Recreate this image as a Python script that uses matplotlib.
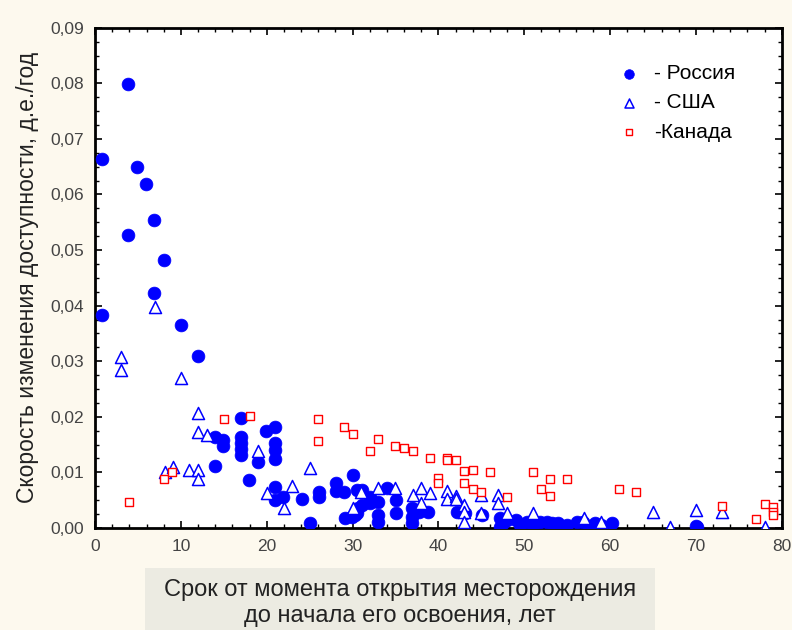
import numpy as np
import matplotlib
matplotlib.use('Agg')
import matplotlib.pyplot as plt
from matplotlib.ticker import MultipleLocator, FuncFormatter
from matplotlib.patches import Rectangle

plt.rcParams['font.family'] = ['Liberation Sans', 'DejaVu Sans']

# Россия (сплошные круги)
rus_x = [3.8, 0.8, 4.9, 5.9, 6.9, 3.8, 8.0, 6.9, 0.8, 10.0, 12.0,
         17.0, 14.0, 14.9, 14.9, 17.0, 17.0, 17.0, 17.0, 19.9, 21.0, 21.0, 21.0, 21.0,
         14.0, 19.0, 17.9, 21.0, 21.0, 21.9, 24.1, 25.0, 26.1, 26.1, 28.1, 28.1, 29.0,
         30.0, 30.5, 29.1, 29.9, 30.6, 30.5, 31.1, 31.1, 32.0, 32.0, 33.0, 34.0, 33.0,
         33.0, 30.3, 35.1, 35.1, 36.9, 36.9, 36.9, 37.8, 38.8, 37.5, 42.2, 43.1, 45.1,
         47.2, 47.2, 48.0, 49.1, 50.3, 51.8, 52.6, 53.2, 53.9, 56.1, 56.8, 58.2, 60.2,
         70.1, 47.5, 49.5, 51.0, 55.0, 57.5, 59.0, 70.0]
rus_y = [0.0799, 0.0664, 0.0650, 0.0619, 0.0554, 0.0527, 0.0482, 0.0423, 0.0383, 0.0365, 0.0310,
         0.0198, 0.0164, 0.0158, 0.0148, 0.0164, 0.0153, 0.0142, 0.0131, 0.0175, 0.0182, 0.0153, 0.0140, 0.0124,
         0.0112, 0.0119, 0.0086, 0.0074, 0.0050, 0.0056, 0.0052, 0.0009, 0.0065, 0.0056, 0.0081, 0.0067, 0.0065,
         0.0095, 0.0068, 0.0018, 0.0020, 0.0036, 0.0027, 0.0068, 0.0041, 0.0056, 0.0045, 0.0047, 0.0072, 0.0023,
         0.0011, 0.0023, 0.0050, 0.0027, 0.0036, 0.0020, 0.0009, 0.0029, 0.0029, 0.0033, 0.0029, 0.0027, 0.0023,
         0.0018, 0.0002, 0.0014, 0.0014, 0.0011, 0.0011, 0.0011, 0.0009, 0.0009, 0.0011, 0.0011, 0.0009, 0.0009,
         0.0002, 0.0008, 0.0005, 0.0006, 0.0005, 0.0004, 0.0006, 0.0004]

# США (треугольники)
usa_x = [7.0, 3.0, 3.0, 10.0, 12.0, 12.0, 13.0, 19.0, 8.2, 9.1, 11.0, 12.0, 12.0,
         20.0, 23.0, 22.0, 25.0, 30.0, 31.0, 33.0, 35.0, 37.0, 38.0, 39.0, 38.0,
         41.0, 41.0, 42.0, 42.0, 43.0, 43.0, 43.0, 45.0, 45.0, 47.0, 47.0, 48.0,
         51.0, 57.0, 59.0, 65.0, 67.0, 70.0, 73.0, 78.0]
usa_y = [0.0398, 0.0308, 0.0284, 0.0270, 0.0207, 0.0173, 0.0167, 0.0139, 0.0100, 0.0110, 0.0104, 0.0104, 0.0088,
         0.0063, 0.0076, 0.0036, 0.0108, 0.0036, 0.0065, 0.0072, 0.0072, 0.0060, 0.0072, 0.0063, 0.0045,
         0.0067, 0.0052, 0.0058, 0.0052, 0.0041, 0.0029, 0.0010, 0.0060, 0.0027, 0.0060, 0.0045, 0.0027,
         0.0027, 0.0018, 0.0010, 0.0029, 0.0002, 0.0032, 0.0029, 0.0002]

# Канада (квадраты)
can_x = [4.0, 8.0, 9.0, 15.0, 18.0, 26.0, 26.0, 29.0, 30.0, 32.0, 33.0, 35.0, 36.0, 37.0,
         39.0, 41.0, 41.0, 42.0, 40.0, 40.0, 43.0, 44.0, 43.0, 44.0, 45.0, 46.0, 48.0,
         51.0, 52.0, 53.0, 53.0, 55.0, 61.0, 63.0, 73.0, 77.0, 78.0, 79.0, 79.0, 79.0]
can_y = [0.0047, 0.0088, 0.0101, 0.0196, 0.0202, 0.0196, 0.0157, 0.0182, 0.0169, 0.0139, 0.0160, 0.0148, 0.0144, 0.0139,
         0.0126, 0.0126, 0.0122, 0.0122, 0.0090, 0.0081, 0.0103, 0.0104, 0.0081, 0.0070, 0.0065, 0.0101, 0.0056,
         0.0101, 0.0070, 0.0088, 0.0058, 0.0088, 0.0070, 0.0065, 0.0040, 0.0016, 0.0043, 0.0038, 0.0029, 0.0023]

bg = '#fdf9ee'
fig = plt.figure(figsize=(7.92, 6.3), dpi=100, facecolor=bg)
ax = fig.add_axes([0.12, 0.162, 0.867, 0.794])
ax.set_facecolor('white')

ax.scatter(rus_x, rus_y, s=85, marker='o', color='#0000ff', edgecolors='#0000ff',
           linewidths=0.5, label='- Россия', zorder=3)
ax.scatter(usa_x, usa_y, s=75, marker='^', facecolors='white', edgecolors='#0000ff',
           linewidths=1.1, label='- США', zorder=4)
ax.scatter(can_x, can_y, s=30, marker='s', facecolors='white', edgecolors='#ff0000',
           linewidths=1.0, label='-Канада', zorder=5)

ax.set_xlim(0, 80)
ax.set_ylim(0, 0.09)
ax.xaxis.set_major_locator(MultipleLocator(10))
ax.xaxis.set_minor_locator(MultipleLocator(2))
ax.yaxis.set_major_locator(MultipleLocator(0.01))
ax.yaxis.set_minor_locator(MultipleLocator(0.0025))
ax.yaxis.set_major_formatter(FuncFormatter(lambda v, p: ('%.2f' % v).replace('.', ',')))
ax.tick_params(which='both', direction='in', top=True, right=True, color='black')
ax.tick_params(which='major', length=5, width=1.2, labelsize=12.5, labelcolor='#444444', pad=8)
ax.tick_params(which='minor', length=3, width=1)
for sp in ax.spines.values():
    sp.set_linewidth(2)
    sp.set_color('black')

ax.set_ylabel('Скорость изменения доступности, д.е./год', fontsize=16.5, color='#222222', labelpad=8)

leg = ax.legend(loc='upper right', bbox_to_anchor=(0.96, 0.965), frameon=False, fontsize=15,
                handletextpad=0.7, labelspacing=0.5, handlelength=1.0, markerscale=0.75)

# подпись оси X в сером прямоугольнике
fig.patches.append(Rectangle((145 / 792, 0), 510 / 792, 62 / 630, transform=fig.transFigure,
                             facecolor='#ecebe2', edgecolor='none', zorder=0))
fig.text(400 / 792, 1 - 590 / 630, 'Срок от момента открытия месторождения', ha='center', va='center',
         fontsize=17, color='#222222')
fig.text(400 / 792, 1 - 616 / 630, 'до начала его освоения, лет', ha='center', va='center',
         fontsize=17, color='#222222')

fig.savefig('out.png', dpi=100, facecolor=bg)
